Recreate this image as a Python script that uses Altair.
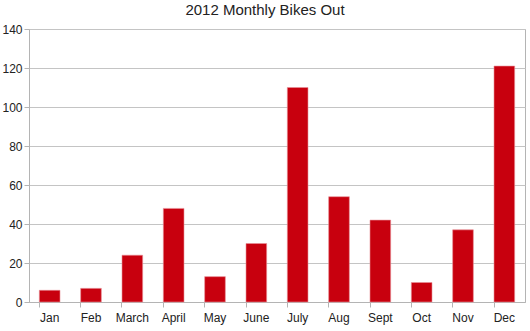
import altair as alt
import pandas as pd

months = ["Jan", "Feb", "March", "April", "May", "June", "July", "Aug", "Sept", "Oct", "Nov", "Dec"]
bikes = [6, 7, 24, 48, 13, 30, 110, 54, 42, 10, 37, 121]
y_ticks = [0, 20, 40, 60, 80, 100, 120, 140]

df = pd.DataFrame({"month": months, "bikes": bikes})

chart = alt.Chart(df).mark_bar(color="#c8000e", stroke="#e89098", strokeWidth=0.6).encode(
    x=alt.X("month:N", sort=months, title=None,
            scale=alt.Scale(paddingInner=0.5, paddingOuter=0.25),
            axis=alt.Axis(labelAngle=0, bandPosition=0, tickSize=5, labelPadding=5,
                          domainColor="#b4b4b4", tickColor="#b4b4b4", grid=False,
                          labelFont="Liberation Sans", labelFontSize=12, labelColor="#222222")),
    y=alt.Y("bikes:Q", title=None,
            scale=alt.Scale(domain=[0, 140], nice=False),
            axis=alt.Axis(values=y_ticks, tickSize=5, labelPadding=2,
                          domainColor="#b4b4b4", tickColor="#b4b4b4",
                          gridColor="#c4c4c4", gridWidth=1,
                          labelFont="Liberation Sans", labelFontSize=12, labelColor="#222222")),
).properties(
    width=496,
    height=273,
    title=alt.TitleParams("2012 Monthly Bikes Out", font="Liberation Sans", fontSize=15,
                          fontWeight="normal", color="#222222", offset=5, anchor="middle",
                          dx=-12),
    autosize=alt.AutoSizeParams(type="none"),
    padding={"left": 29, "top": 29, "right": 5, "bottom": 29},
).configure_view(stroke="#b4b4b4", strokeWidth=1)

chart.save("out.html", embed_options={"renderer": "svg", "actions": False})
